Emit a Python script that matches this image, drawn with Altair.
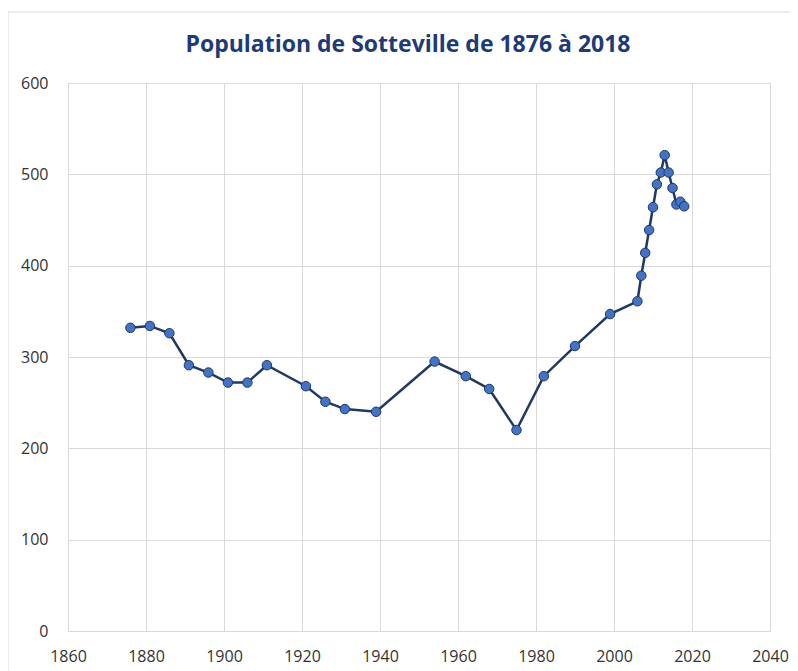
import altair as alt
import pandas as pd

years = [1876, 1881, 1886, 1891, 1896, 1901, 1906, 1911, 1921, 1926, 1931, 1939,
         1954, 1962, 1968, 1975, 1982, 1990, 1999,
         2006, 2007, 2008, 2009, 2010, 2011, 2012, 2013, 2014, 2015, 2016, 2017, 2018]
population = [332, 334, 326, 291, 283, 272, 272, 291, 268, 251, 243, 240,
              295, 279, 265, 220, 279, 312, 347,
              361, 389, 414, 439, 464, 489, 502, 521, 502, 485, 467, 470, 465]

title_text = "Population de Sotteville de 1876 à 2018"
x_ticks = [1860, 1880, 1900, 1920, 1940, 1960, 1980, 2000, 2020, 2040]
y_ticks = [0, 100, 200, 300, 400, 500, 600]

df = pd.DataFrame({"year": years, "pop": population})

navy = "#1F3864"
title_color = "#203A78"
font = "Open Sans"

x_enc = alt.X("year:Q",
              scale=alt.Scale(domain=[1860, 2040], nice=False, zero=False),
              axis=alt.Axis(values=x_ticks, format="d", title=None, domain=False,
                            ticks=False, labelPadding=17, gridColor="#D9D9D9",
                            labelFlush=False, labelOverlap=False,
                            labelFont=font, labelFontSize=16, labelColor="#333333"))
y_enc = alt.Y("pop:Q",
              scale=alt.Scale(domain=[0, 600], nice=False),
              axis=alt.Axis(values=y_ticks, title=None, domain=False, ticks=False,
                            labelPadding=20, gridColor="#D9D9D9", labelFlush=False,
                            labelFont=font, labelFontSize=16, labelColor="#333333"))

base = alt.Chart(df)
line = base.mark_line(color=navy, strokeWidth=2.5).encode(x=x_enc, y=y_enc)
pts = base.mark_point(filled=True, fill="#4472C4", stroke=navy, strokeWidth=1,
                      opacity=1, size=90).encode(x="year:Q", y="pop:Q")

one = pd.DataFrame({"a": [0]})
border = alt.Chart(one).mark_rect(
    fill=None, stroke="#D9D9D9", strokeWidth=1).encode(
    x=alt.value(-60), x2=alt.value(760), y=alt.value(-71), y2=alt.value(700))

title = alt.Chart(one).mark_text(
    font=font, fontSize=23, fontWeight="bold", color=title_color,
    align="center", baseline="middle").encode(
    x=alt.value(340), y=alt.value(-38), text=alt.value(title_text))

chart = alt.layer(border, line, pts, title).properties(
    width=702, height=548,
    autosize=alt.AutoSizeParams(type="none"),
    padding={"left": 60, "top": 75, "right": 20, "bottom": 40},
).configure_view(stroke="#D9D9D9")

chart.save("out.html", embed_options={"renderer": "svg", "actions": False})
